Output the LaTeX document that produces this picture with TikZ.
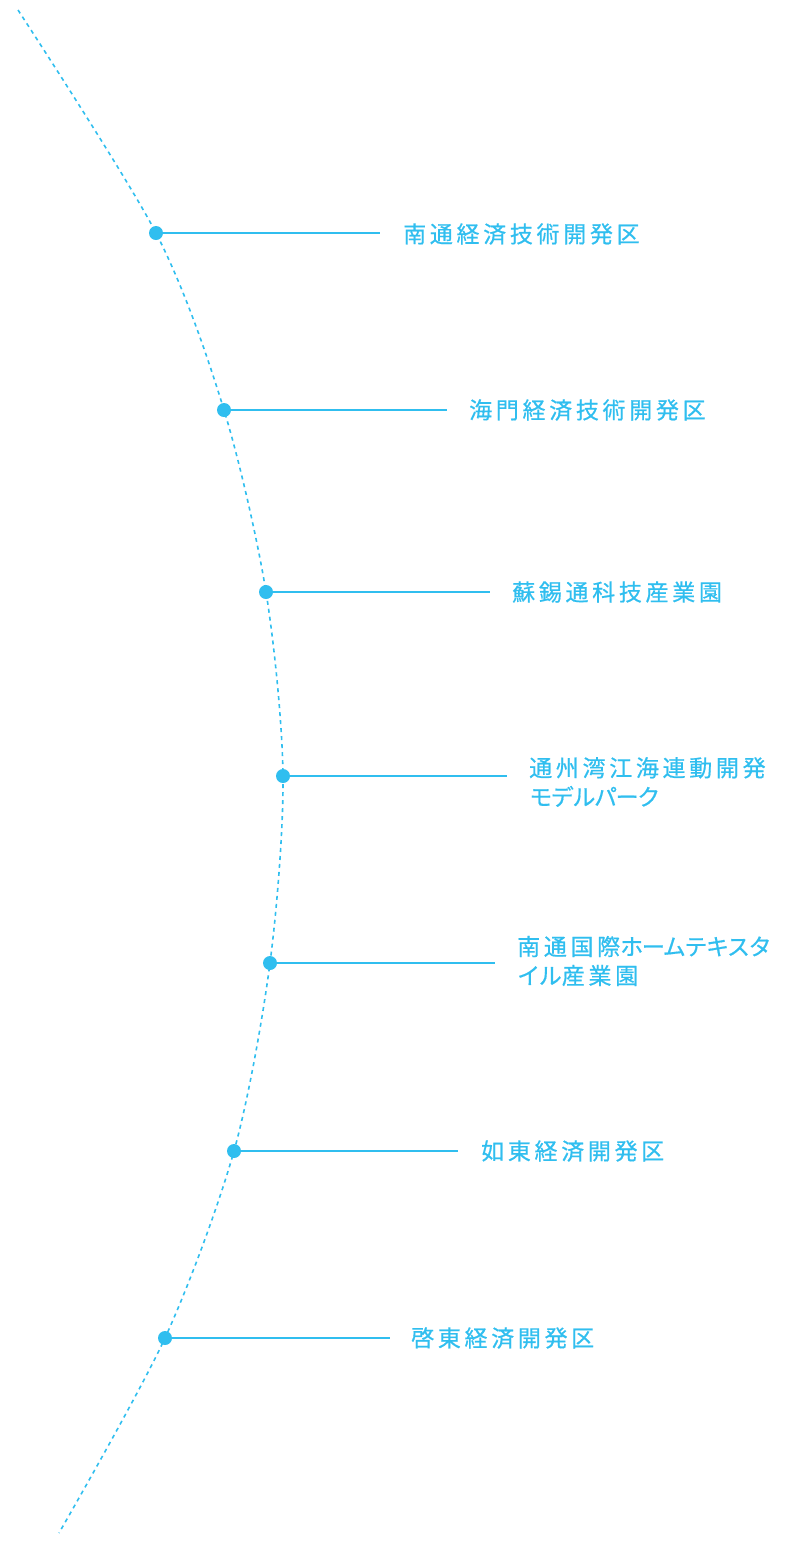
\documentclass[tikz,border=0pt]{standalone}
\usepackage{fontspec}
\newfontfamily\jpfont[LetterSpace=16, FakeBold=0.6]{Noto Sans CJK JP}
\newfontfamily\kanafont[LetterSpace=-6, FakeBold=0.6]{Noto Sans CJK JP}
\newcommand\kn[1]{{\kanafont #1}}
\definecolor{tl}{HTML}{30BEEF}
\tikzset{
  dot/.style={circle, fill=tl, inner sep=0pt, minimum size=14pt},
  lbl/.style={anchor=west, inner sep=0pt, text=tl, align=left,
    font=\jpfont\fontsize{23}{29}\selectfont},
  lead/.style={draw=tl, line width=2pt}
}
\begin{document}
\begin{tikzpicture}[x=1pt, y=-1pt]
        \useasboundingbox (0,0) rectangle (786,1543);
        % points on the arc
        \coordinate (top) at (18,10);
        \node[dot] (d1) at (156,233) {};
        \node[dot] (d2) at (224,410) {};
        \node[dot] (d3) at (266,592) {};
        \node[dot] (d4) at (283,776) {};
        \node[dot] (d5) at (270,963) {};
        \node[dot] (d6) at (234,1151) {};
        \node[dot] (d7) at (165,1338) {};
        \coordinate (bot) at (59,1533);
        \draw[tl, dashed, dash pattern=on 4pt off 4pt, line width=1.6pt]
              plot[smooth] coordinates {(top) (d1) (d2) (d3) (d4) (d5) (d6) (d7) (bot)};
        % line ends
        \coordinate (e1) at (380,233);
        \coordinate (e2) at (447,410);
        \coordinate (e3) at (490,592);
        \coordinate (e4) at (507,776);
        \coordinate (e5) at (495,963);
        \coordinate (e6) at (458,1151);
        \coordinate (e7) at (390,1338);
        \draw[lead] (d1) -- (e1);
        \draw[lead] (d2) -- (e2);
        \draw[lead] (d3) -- (e3);
        \draw[lead] (d4) -- (e4);
        \draw[lead] (d5) -- (e5);
        \draw[lead] (d6) -- (e6);
        \draw[lead] (d7) -- (e7);
        % labels
        \node[lbl] (t1) at (403,234) {南通経済技術開発区};
        \node[lbl] (t2) at (469,410) {海門経済技術開発区};
        \node[lbl] (t3) at (512,592) {蘇錫通科技産業園};
        \node[lbl] (t4) at (529,782) {通州湾江海連動開発\\\kn{モデルパーク}};
        \node[lbl] (t5) at (517,961) {南通国際\kn{ホームテキスタ}\\\kn{イル}産業園};
        \node[lbl] (t6) at (481,1151) {如東経済開発区};
        \node[lbl] (t7) at (411,1338) {啓東経済開発区};
\end{tikzpicture}
\end{document}
